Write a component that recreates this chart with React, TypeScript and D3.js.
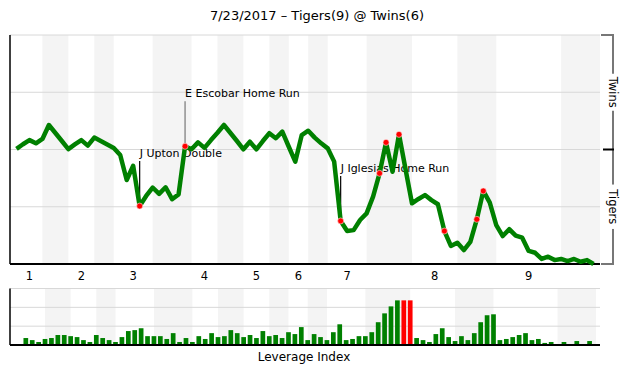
import React from 'react';
import * as d3 from 'd3';

const title = '7/23/2017 – Tigers(9) @ Twins(6)';
const innings = ['1', '2', '3', '4', '5', '6', '7', '8', '9'];
// plate appearances per half inning (top, bottom)
const halfInningCounts = [5, 4, 4, 3, 6, 6, 4, 4, 4, 3, 3, 3, 6, 7, 7, 6, 10, 6];
// Twins win probability, start of game then after each event
const winProb = [
  0.503, 0.523, 0.541, 0.527, 0.546, 0.607, 0.572, 0.537, 0.502, 0.522,
  0.541, 0.517, 0.552, 0.537, 0.522, 0.507, 0.476, 0.367, 0.429, 0.253,
  0.297, 0.334, 0.306, 0.335, 0.283, 0.304, 0.514, 0.501, 0.531, 0.507,
  0.541, 0.573, 0.607, 0.572, 0.537, 0.501, 0.534, 0.501, 0.537, 0.571,
  0.549, 0.578, 0.512, 0.447, 0.563, 0.582, 0.552, 0.527, 0.505, 0.447,
  0.188, 0.144, 0.148, 0.192, 0.221, 0.294, 0.396, 0.531, 0.403, 0.566,
  0.415, 0.265, 0.284, 0.301, 0.279, 0.261, 0.144, 0.079, 0.093, 0.061,
  0.097, 0.195, 0.319, 0.268, 0.170, 0.122, 0.152, 0.124, 0.115, 0.057,
  0.049, 0.022, 0.032, 0.017, 0.022, 0.013, 0.022, 0.010, 0.017, 0.000,
];
// leverage index of each event
const leverage = [
  0.37, 0.26, 0.16, 0.32, 0.37, 0.53, 0.53, 0.47, 0.42, 0.26,
  0.16, 0.53, 0.37, 0.26, 0.16, 0.42, 0.74, 0.79, 0.89, 0.47,
  0.47, 0.47, 0.32, 0.63, 0.16, 0.37, 0.16, 0.47, 0.32, 0.63,
  0.42, 0.47, 0.79, 0.63, 0.42, 0.53, 0.37, 0.74, 0.47, 0.53,
  0.37, 0.68, 0.58, 0.95, 0.26, 0.58, 0.42, 0.26, 0.68, 1.10,
  0.26, 0.32, 0.47, 0.47, 0.68, 1.21, 1.68, 2.05, 2.37, 2.37,
  2.37, 0.37, 0.26, 0.16, 0.58, 0.89, 0.42, 0.21, 0.47, 0.26,
  0.63, 1.21, 1.58, 1.63, 0.26, 0.32, 0.42, 0.53, 0.63, 0.26,
  0.32, 0.11, 0.16, 0.05, 0.16, 0.05, 0.21, 0.05, 0.21,
];
const redBarEvents = [60, 61];
// key plays: index into winProb
const keyPlays = [19, 26, 50, 56, 57, 59, 66, 71, 72];
const annotations = [
  { point: 19, label: 'J Upton Double', color: '#000' },
  { point: 26, label: 'E Escobar Home Run', color: '#777' },
  { point: 50, label: 'J Iglesias Home Run', color: '#000' },
];
const teamLabels = ['Twins', 'Tigers'];
const bottomTitle = 'Leverage Index';

const FONT = 'DejaVu Sans, Verdana, sans-serif';

export default function App() {
  const total = d3.sum(halfInningCounts);
  const x = d3.scaleLinear().domain([0, total]).range([10, 600]);
  const xb = d3.scaleLinear().domain([0, total]).range([13, 596]);
  const y = d3.scaleLinear().domain([0, 1]).range([264, 35]);
  const yb = d3.scaleLinear().domain([0, 3]).range([345, 288.5]);

  const bounds = [0, ...d3.cumsum(halfInningCounts)];
  const bottomHalves = innings.map((_, i) => [bounds[2 * i + 1], bounds[2 * i + 2]]);
  const labelPos = innings.map((_, i) => (Math.max(bounds[2 * i], 1) + bounds[2 * i + 1]) / 2);

  const line = d3
    .line<number>()
    .x((_, i) => x(i + 1))
    .y((d) => y(d));

  const barW = 4.7;

  return (
    <svg
      width={630}
      height={380}
      style={{ position: 'absolute', left: 0, top: 0, background: '#fff' }}
      fontFamily={FONT}
    >
      <rect x={0} y={0} width={630} height={380} fill="#fff" />
      <text x={317} y={20} textAnchor="middle" fontSize={13} fill="#000">
        {title}
      </text>

      {/* main chart stripes */}
      {bottomHalves.map(([a, b], i) => (
        <rect key={'s' + i} x={x(a)} y={y(1)} width={x(b) - x(a)} height={y(0) - y(1)} fill="#f4f4f4" />
      ))}
      {[1, 0.75, 0.5, 0.25].map((v) => (
        <line key={'g' + v} x1={10} x2={600} y1={y(v)} y2={y(v)} stroke="#d8d8d8" strokeWidth={1} />
      ))}
      <line x1={10} x2={10} y1={y(1)} y2={y(0)} stroke="#000" strokeWidth={1.5} />
      <line x1={10} x2={600} y1={y(0)} y2={y(0)} stroke="#000" strokeWidth={2} />

      {/* right bracket */}
      <line x1={613} x2={613} y1={y(1)} y2={y(0)} stroke="#777" strokeWidth={2} />
      <line x1={601} x2={614} y1={y(1)} y2={y(1)} stroke="#777" strokeWidth={2} />
      <line x1={601} x2={614} y1={y(0)} y2={y(0)} stroke="#777" strokeWidth={2} />
      <line x1={603} x2={614} y1={y(0.5)} y2={y(0.5)} stroke="#000" strokeWidth={2} />
      {teamLabels.map((t, i) => {
        const cy = y(i === 0 ? 0.75 : 0.25);
        return (
          <g key={t} transform={`translate(613,${cy}) rotate(90)`}>
            <rect x={-t.length * 3.7} y={-7} width={t.length * 7.4} height={14} fill="#fff" />
            <text x={0} y={4} textAnchor="middle" fontSize={11.5} fill="#000">
              {t}
            </text>
          </g>
        );
      })}

      {/* annotations */}
      {annotations.map((a) => {
        const px = x(a.point + 1);
        const py = y(winProb[a.point]);
        return (
          <g key={a.label}>
            <line x1={px} x2={px} y1={py} y2={py - 45} stroke={a.color} strokeWidth={1.2} />
            <text x={px} y={py - 49} fontSize={11} fill="#000">
              {a.label}
            </text>
          </g>
        );
      })}

      <path d={line(winProb) || ''} fill="none" stroke="#008000" strokeWidth={4.5} strokeLinejoin="round" />
      {keyPlays.map((k) => (
        <circle key={'k' + k} cx={x(k + 1)} cy={y(winProb[k])} r={3} fill="#ff0000" stroke="#ffdddd" strokeWidth={0.6} />
      ))}

      {innings.map((inn, i) => (
        <text key={'i' + inn} x={x(labelPos[i])} y={280} textAnchor="middle" fontSize={11.5} fill="#000">
          {inn}
        </text>
      ))}

      {/* leverage chart */}
      {bottomHalves.map(([a, b], i) => (
        <rect key={'bs' + i} x={xb(a)} y={yb(3)} width={xb(b) - xb(a)} height={yb(0) - yb(3)} fill="#f4f4f4" />
      ))}
      {[3, 2, 1].map((v) => (
        <line key={'bg' + v} x1={10} x2={600} y1={yb(v)} y2={yb(v)} stroke="#d8d8d8" strokeWidth={1} />
      ))}
      {leverage.map((v, i) => (
        <rect
          key={'b' + i}
          x={xb(i + 2) - barW / 2}
          y={yb(v)}
          width={barW}
          height={yb(0) - yb(v)}
          fill={redBarEvents.includes(i + 1) ? '#ff0000' : '#008000'}
        />
      ))}
      <line x1={10} x2={10} y1={yb(3)} y2={yb(0)} stroke="#000" strokeWidth={1.5} />
      <line x1={10} x2={600} y1={yb(0)} y2={yb(0)} stroke="#000" strokeWidth={2} />
      <text x={304} y={361} textAnchor="middle" fontSize={12} fill="#000">
        {bottomTitle}
      </text>
    </svg>
  );
}
